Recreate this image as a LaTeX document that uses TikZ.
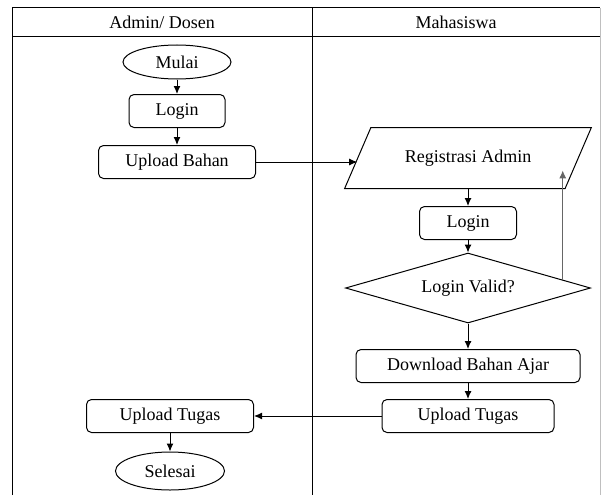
\documentclass[tikz,border=0pt]{standalone}
\usepackage{fontspec}
\setmainfont{Liberation Serif}
\usetikzlibrary{calc, shapes, arrows, arrows.meta, positioning}

\tikzset{
	proses/.style={draw, rounded corners=5pt, minimum height=33pt, inner sep=2pt},
	ujung/.style={draw, ellipse, inner sep=0pt},
	alur/.style={-{Latex[length=8pt, width=7pt]}},
}

\begin{document}
\begin{tikzpicture}[x=1pt, y=-1pt, line width=1pt, font=\fontsize{18}{21}\selectfont]
	\useasboundingbox (0,0) rectangle (601,495);
	% swimlane frame
	\draw (12,495) -- (12,8) -- (600,8);
	\draw (12,37) -- (600,37);
	\draw (312,8) -- (312,495);
	\draw[black!25] (600,8) -- (600,495);
	\node (laneA) at (162,22) {Admin/ Dosen};
	\node (laneB) at (456,22) {Mahasiswa};

	% admin / dosen
	\node[ujung, minimum width=108pt, minimum height=34pt] (mulai) at (177,62) {Mulai};
	\node[proses, minimum width=96pt] (loginA) at (177,111) {Login};
	\node[proses, minimum width=157pt] (upbahan) at (177,162) {Upload Bahan};
	\node[proses, minimum width=167pt] (uptugasA) at (170,416) {Upload Tugas};
	\node[ujung, minimum width=109pt, minimum height=38pt] (selesai) at (170,471) {Selesai};

	% mahasiswa
	\node[draw, trapezium, trapezium left angle=52, trapezium right angle=128, trapezium stretches=true, minimum width=247pt, minimum height=61pt] (regis) at (468,158) {Registrasi Admin};
	\node[proses, minimum width=97pt] (loginB) at (468,223) {Login};
	\node[draw, diamond, aspect=3.5, inner sep=0pt, minimum width=245pt, minimum height=70pt] (valid) at (468,288) {Login Valid?};
	\node[proses, minimum width=224pt] (download) at (468,366) {Download Bahan Ajar};
	\node[proses, minimum width=172pt] (uptugasB) at (468,416) {Upload Tugas};

	\draw[alur] (mulai) -- (loginA);
	\draw[alur] (loginA) -- (upbahan);
	\draw[alur] (upbahan.east) -- (upbahan.east -| regis.west);
	\draw[alur] (regis) -- (loginB);
	\draw[alur] (loginB) -- (valid);
	\coordinate (balik) at ($(valid.north)!0.77!(valid.east)$);
	\coordinate (sisi) at ($(regis.bottom right corner)!0.3!(regis.top right corner)$);
	\draw[alur, black!60] (balik) -- (balik |- sisi);
	\draw[alur] (valid) -- (download);
	\draw[alur] (download) -- (uptugasB);
	\draw[alur] (uptugasB) -- (uptugasA);
	\draw[alur] (uptugasA) -- (selesai);
\end{tikzpicture}
\end{document}
